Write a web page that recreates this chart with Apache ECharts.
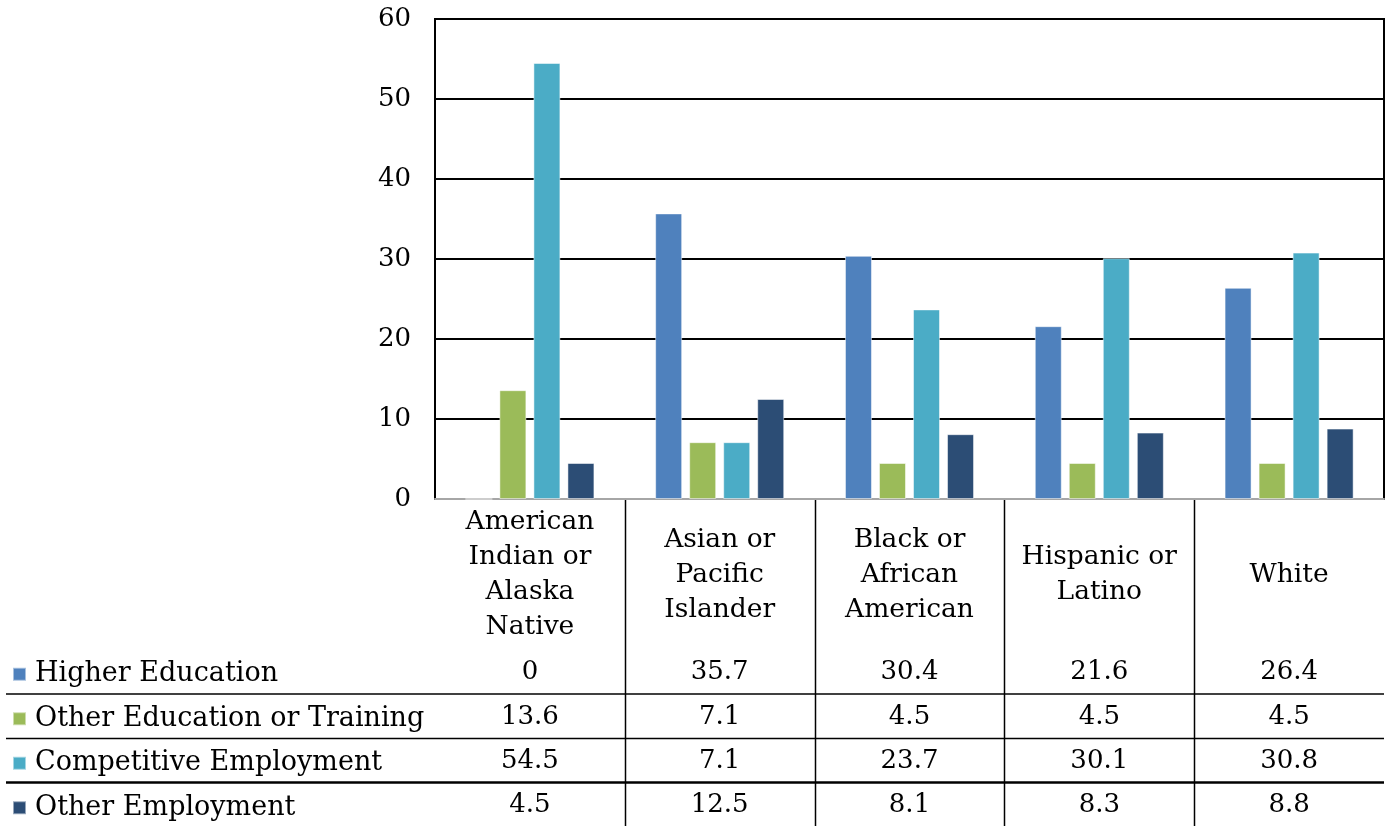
<!DOCTYPE html>
<html>
<head>
<meta charset="utf-8">
<script src="https://cdn.jsdelivr.net/npm/echarts@6/dist/echarts.min.js"></script>
<style>
  html, body { margin: 0; padding: 0; background: #fff; }
  #main { width: 1390px; height: 826px; }
</style>
</head>
<body>
<div id="main"></div>
<script>
const categories = ['American\nIndian or\nAlaska\nNative', 'Asian or\nPacific\nIslander', 'Black or\nAfrican\nAmerican', 'Hispanic or\nLatino', 'White']
const seriesNames = ['Higher Education', 'Other Education or Training', 'Competitive Employment', 'Other Employment']
const higherEducation = [0, 35.7, 30.4, 21.6, 26.4]
const otherEducation = [13.6, 7.1, 4.5, 4.5, 4.5]
const competitiveEmployment = [54.5, 7.1, 23.7, 30.1, 30.8]
const otherEmployment = [4.5, 12.5, 8.1, 8.3, 8.8]
const yTicks = [0, 10, 20, 30, 40, 50, 60]

const colors = ['#4F81BD', '#9BBB59', '#4BACC6', '#2C4D75']
const font = 'DejaVu Serif'
const allData = [higherEducation, otherEducation, competitiveEmployment, otherEmployment]

const mychart = echarts.init(document.getElementById('main'))

const option = {
  animation: false,
  textStyle: { fontFamily: font, color: '#000' },
  grid: {
    left: 435, right: 6, top: 19, bottom: 327,
    show: true, borderColor: '#000', borderWidth: 2
  },
  legend: {
    orient: 'vertical',
    left: 7, top: 647,
    width: 500, height: 200,
    itemGap: 0,
    itemWidth: 13, itemHeight: 13,
    icon: 'rect',
    selectedMode: false,
    textStyle: { fontFamily: font, fontSize: 27, color: '#000', lineHeight: 44.5, padding: [0, 0, 0, 4] },
    data: seriesNames
  },
  xAxis: {
    type: 'category',
    data: categories,
    axisLine: { lineStyle: { color: '#a6a6a6', width: 2 } },
    axisTick: { show: false },
    axisLabel: {
      interval: 0, margin: 76, verticalAlign: 'middle',
      fontFamily: font, fontSize: 26.5, lineHeight: 35, color: '#000'
    }
  },
  yAxis: {
    type: 'value',
    min: yTicks[0], max: yTicks[yTicks.length - 1], interval: 10,
    axisLine: { show: true, lineStyle: { color: '#000', width: 2 } },
    axisTick: { show: false },
    splitLine: { lineStyle: { color: '#000', width: 2 } },
    axisLabel: { margin: 24, fontFamily: font, fontSize: 26, color: '#000' }
  },
  series: seriesNames.map((name, k) => ({
    name: name,
    type: 'bar',
    data: allData[k],
    barWidth: 27,
    barGap: '26%',
    itemStyle: { color: colors[k], borderColor: 'rgba(255,255,255,0.5)', borderWidth: 1 }
  }))
}
mychart.setOption(option)

// data table below the chart, positioned from the category axis
const rowY = [672, 717, 761, 805]
const lineY = [694, 738.5, 782.5]
const graphics = []
const centers = categories.map((c, i) => mychart.convertToPixel({ xAxisIndex: 0 }, i))
const step = centers[1] - centers[0]
for (let i = 1; i < categories.length; i++) {
  const x = Math.round(centers[i] - step / 2) + 0.5
  graphics.push({ type: 'line', shape: { x1: x, y1: 500, x2: x, y2: 826 }, style: { stroke: '#000', lineWidth: 1.5 }, silent: true })
}
lineY.forEach((y, j) => {
  graphics.push({ type: 'line', shape: { x1: 6, y1: y, x2: 1384, y2: y }, style: { stroke: '#000', lineWidth: j === 2 ? 2.5 : 1.5 }, silent: true })
})
allData.forEach((arr, k) => {
  arr.forEach((v, i) => {
    graphics.push({
      type: 'text', x: centers[i], y: rowY[k], silent: true,
      style: { text: String(v), fontFamily: font, fontSize: 26, fill: '#000', align: 'center', verticalAlign: 'middle' }
    })
  })
})
mychart.setOption({ graphic: graphics })
</script>
</body>
</html>
